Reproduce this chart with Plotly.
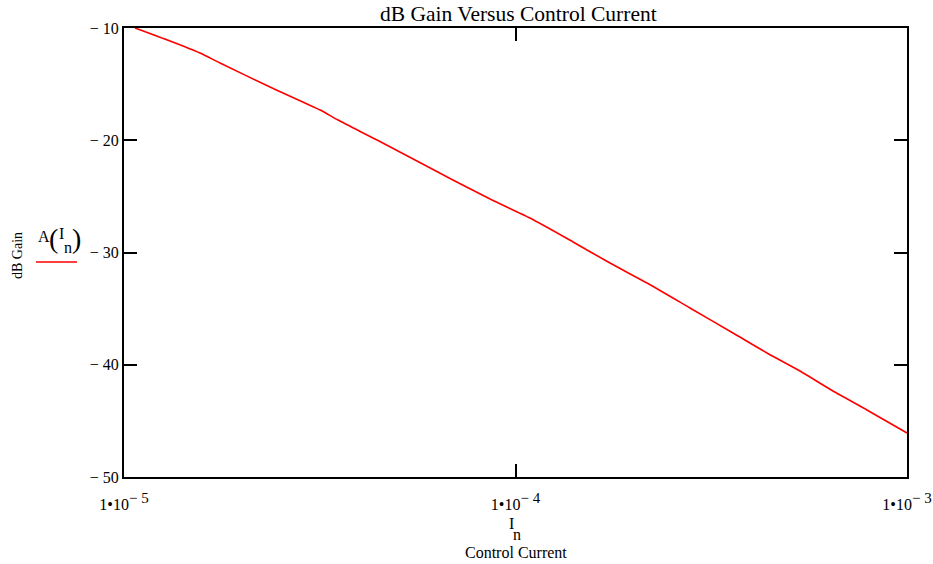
import plotly.graph_objects as go

# Data
current = [1.067e-5, 1.311e-5, 1.563e-5, 1.759e-5, 2.36e-5, 3.17e-5, 3.52e-5, 4.43e-5,
           5.54e-5, 6.92e-5, 8.71e-5, 1.089e-4, 1.403e-4, 1.743e-4, 2.167e-4, 2.79e-4,
           3.593e-4, 4.389e-4, 5.33e-4, 6.47e-4, 7.90e-4, 1.0e-3]
gain_db = [-10.00, -11.16, -12.23, -13.12, -15.26, -17.31, -18.20, -19.98,
           -21.76, -23.54, -25.32, -26.93, -29.06, -30.94, -32.72, -34.94,
           -37.17, -38.95, -40.56, -42.34, -44.03, -46.08]

x_tickvals = [1e-5, 1e-4, 1e-3]
x_ticktext = ["1\u202210<sup><span style='font-size:15px'>\u2212 5</span></sup>",
              "1\u202210<sup><span style='font-size:15px'>\u2212 4</span></sup>",
              "1\u202210<sup><span style='font-size:15px'>\u2212 3</span></sup>"]
y_tickvals = [-50, -40, -30, -20, -10]
y_ticktext = ["\u2212 50", "\u2212 40", "\u2212 30", "\u2212 20", "\u2212 10"]

FONT = "Liberation Serif, Times New Roman, serif"

W, H = 933, 564
PL, PR, PT, PB = 124, 907, 28, 477          # plot area in page pixels
L, R, T, B = PL, W - PR, PT, H - PB

def px(xp):
    return (xp - PL) / (PR - PL)

def py(yp):
    return (PB - yp) / (PB - PT)

fig = go.Figure()
fig.add_trace(go.Scatter(x=current, y=gain_db, mode="lines",
                         line=dict(color="#ff0000", width=1.6, shape="spline", smoothing=0.6),
                         showlegend=False))

axis_common = dict(showline=True, linecolor="black", linewidth=2, mirror="ticks",
                   ticks="inside", ticklen=13, tickwidth=2, tickcolor="black",
                   showgrid=False, zeroline=False, automargin=False,
                   tickfont=dict(family=FONT, size=16, color="black"))

fig.update_xaxes(type="log", range=[-5, -3], tickmode="array",
                 tickvals=x_tickvals, ticktext=x_ticktext, ticklabelstandoff=12,
                 **axis_common)
fig.update_yaxes(range=[-50, -10], tickmode="array",
                 tickvals=y_tickvals, ticktext=y_ticktext, **axis_common)

def ann(text, x, y, size, angle=0):
    return dict(text=text, x=px(x), y=py(y), xref="paper", yref="paper",
                xanchor="center", yanchor="middle", textangle=angle,
                showarrow=False, font=dict(family=FONT, size=size, color="black"))

annotations = [
    ann("dB Gain Versus Control Current", 518, 14, 21.5),
    ann("I", 511, 523, 16),
    ann("n", 517, 534, 16),
    ann("Control Current", 516, 552, 16),
    ann("dB Gain", 17, 256, 14, -90),
    ann("A", 44, 236, 16),
    ann("(", 53, 238, 28),
    ann("I", 61, 233, 16),
    ann("n", 68, 247, 16),
    ann(")", 76, 238, 28),
]

fig.update_layout(
    width=W, height=H, autosize=False,
    margin=dict(l=L, r=R, t=T, b=B, pad=0),
    paper_bgcolor="white", plot_bgcolor="white",
    annotations=annotations,
    shapes=[dict(type="line", xref="paper", yref="paper",
                 x0=px(36), x1=px(77), y0=py(262), y1=py(262),
                 line=dict(color="#ff0000", width=1.6))],
)

fig.write_html("out.html", config={"responsive": False, "displayModeBar": False},
               post_script="document.body.style.margin='0';document.body.style.overflow='hidden';")
